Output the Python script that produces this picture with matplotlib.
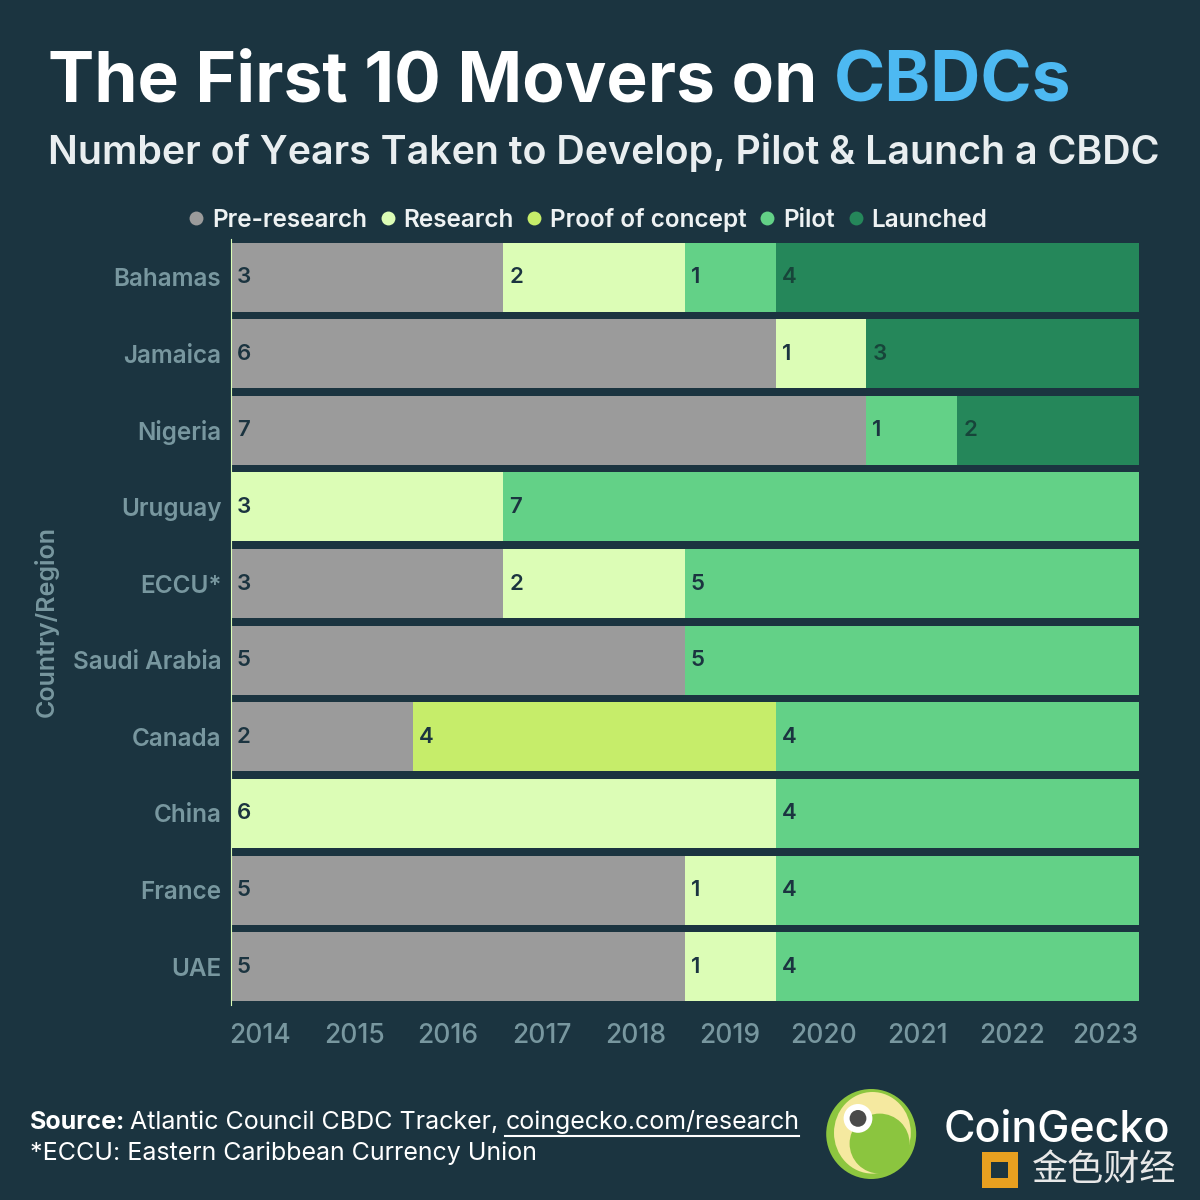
import numpy as np
import matplotlib.pyplot as plt
from matplotlib.patches import Circle, Ellipse

plt.rcParams['font.family'] = ['Inter', 'DejaVu Sans']

# data
countries = ['Bahamas', 'Jamaica', 'Nigeria', 'Uruguay', 'ECCU*',
             'Saudi Arabia', 'Canada', 'China', 'France', 'UAE']
pre_research = [3, 6, 7, 0, 3, 5, 2, 0, 5, 5]
research = [2, 1, 0, 3, 2, 0, 0, 6, 1, 1]
proof_of_concept = [0, 0, 0, 0, 0, 0, 4, 0, 0, 0]
pilot = [1, 0, 1, 7, 5, 5, 4, 4, 4, 4]
launched = [4, 3, 2, 0, 0, 0, 0, 0, 0, 0]
stages = ['Pre-research', 'Research', 'Proof of concept', 'Pilot', 'Launched']
years = ['2014', '2015', '2016', '2017', '2018', '2019', '2020', '2021', '2022', '2023']

colors = ['#9b9b9b', '#dcfdb6', '#c6ed6a', '#63d187', '#25875a']
label_colors = ['#1b3440', '#1b3440', '#1b3440', '#1b3440', '#17453a']
BG = '#1b3440'
MUTED = '#78979f'

fig = plt.figure(figsize=(12, 12), dpi=100, facecolor=BG)
ax = fig.add_axes([0.1925, 0.1625, 0.7565, 0.6385])
ax.set_facecolor(BG)

series = [pre_research, research, proof_of_concept, pilot, launched]
y = np.arange(len(countries))
left = np.zeros(len(countries))
for vals, col, lc in zip(series, colors, label_colors):
    vals = np.array(vals, dtype=float)
    ax.barh(y, vals, left=left, height=0.9, color=col, edgecolor='none')
    for yi, (l, v) in enumerate(zip(left, vals)):
        if v > 0:
            ax.text(l + 0.065, yi, f'{int(v)}', va='center', ha='left',
                    fontsize=16, fontweight='semibold', color=lc)
    left += vals

ax.set_xlim(0, 10)
ax.set_ylim(len(countries) - 0.5, -0.5)
ax.set_yticks(y)
ax.set_yticklabels(countries, fontsize=17.5, fontweight='semibold', color=MUTED)
ax.set_xticks(np.arange(10) * 1.035 + 0.32)
ax.set_xticklabels(years, fontsize=19, fontweight='medium', color=MUTED)
ax.tick_params(axis='both', length=0)
ax.tick_params(axis='y', pad=7)
ax.tick_params(axis='x', pad=13)
for s in ['top', 'right', 'bottom']:
    ax.spines[s].set_visible(False)
ax.spines['left'].set_color('#dcfdb6')
ax.spines['left'].set_linewidth(0.8)
ax.set_ylabel('Country/Region', fontsize=18, fontweight='semibold', color=MUTED)
ax.yaxis.set_label_coords(-0.19, 0.5)

# title
t = fig.text(0.04, 0.915, 'The First 10 Movers on ', fontsize=50, fontweight='bold',
             color='white', ha='left', va='baseline')
fig.canvas.draw()
bb = t.get_window_extent()
fig.text(bb.x1 / fig.bbox.width, 0.915, 'CBDCs', fontsize=50, fontweight='bold',
         color='#4db9f2', ha='left', va='baseline')
fig.text(0.503, 0.863, 'Number of Years Taken to Develop, Pilot & Launch a CBDC',
         fontsize=28.3, fontweight='semibold', color='#e9eef0', ha='center', va='baseline')

# legend
handles = [plt.Line2D([], [], marker='o', linestyle='none', markersize=10,
                      markerfacecolor=c, markeredgecolor='none') for c in colors]
fig.legend(handles, stages, loc='center', bbox_to_anchor=(0.488, 0.817), ncol=5,
           frameon=False, labelcolor='#eef2f3', handletextpad=0.15,
           columnspacing=0.35, handlelength=1.0, prop={'weight': 'semibold', 'size': 17.5})

# footer
FS = 18
s = fig.text(0.025, 0.059, 'Source:', fontsize=FS, fontweight='bold', color='white',
             ha='left', va='baseline')
fig.canvas.draw()
sb = s.get_window_extent()
s2 = fig.text(sb.x1 / fig.bbox.width + 0.004, 0.059, 'Atlantic Council CBDC Tracker, ',
              fontsize=FS, color='white', ha='left', va='baseline')
fig.canvas.draw()
sb2 = s2.get_window_extent()
s3 = fig.text(sb2.x1 / fig.bbox.width, 0.059, 'coingecko.com/research', fontsize=FS,
              color='white', ha='left', va='baseline')
fig.canvas.draw()
sb3 = s3.get_window_extent()
fig.add_artist(plt.Line2D([sb3.x0 / 1200, sb3.x1 / 1200], [0.0535, 0.0535],
                          color='white', linewidth=1.5))
fig.text(0.025, 0.033, '*ECCU: Eastern Caribbean Currency Union', fontsize=FS,
         color='white', ha='left', va='baseline')

# logo
fig.add_artist(Ellipse((0.726, 0.055), 0.075, 0.075, facecolor='#8dc63f', edgecolor='none'))
fig.add_artist(Ellipse((0.727, 0.056), 0.064, 0.068, facecolor='#f5e9a0', edgecolor='none'))
fig.add_artist(Ellipse((0.733, 0.047), 0.05, 0.05, facecolor='#8bc53f', edgecolor='none'))
fig.add_artist(Circle((0.715, 0.068), 0.012, facecolor='white', edgecolor='none'))
fig.add_artist(Circle((0.715, 0.068), 0.007, facecolor='#4a4a4a', edgecolor='none'))
fig.text(0.786, 0.058, 'CoinGecko', fontsize=31, fontweight='medium', color='white',
         ha='left', va='center')
fig.text(0.86, 0.025, '金色财经', fontsize=26, color='#e8e8e8', ha='left', va='center',
         family=['Noto Sans CJK SC', 'DejaVu Sans'])
fig.add_artist(plt.Rectangle((0.818, 0.010), 0.03, 0.03, facecolor='#e8a020', edgecolor='none'))
fig.add_artist(plt.Rectangle((0.826, 0.018), 0.014, 0.014, facecolor=BG, edgecolor='none'))

fig.savefig('out.png', dpi=100, facecolor=BG)
